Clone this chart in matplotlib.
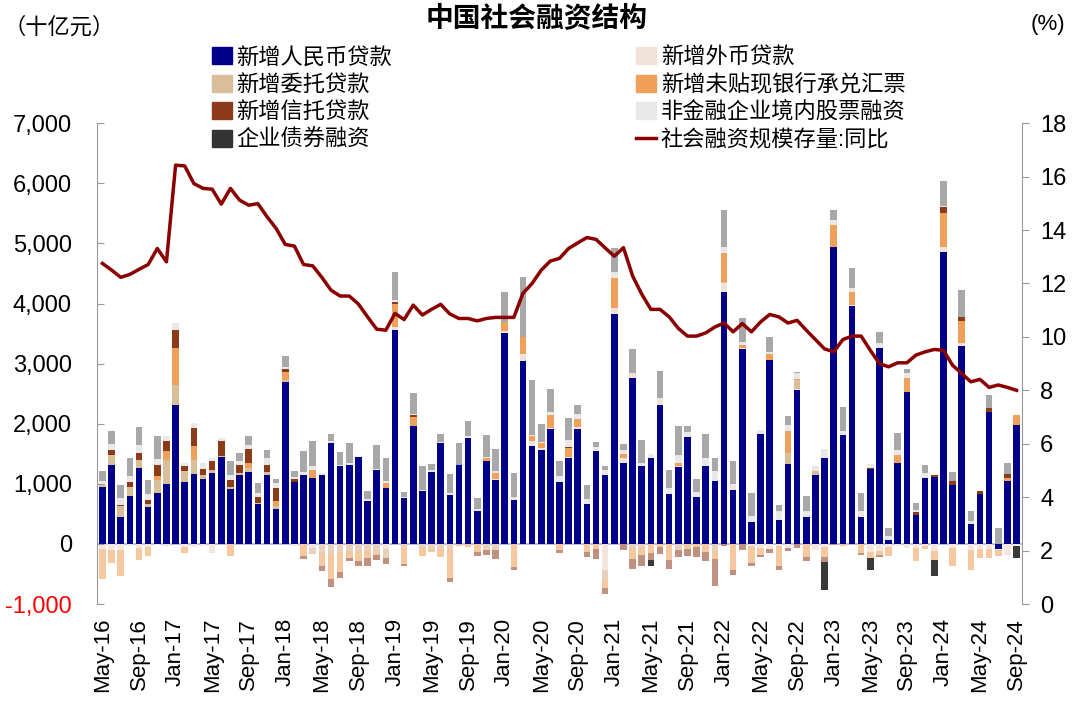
import matplotlib
matplotlib.use('Agg')
import matplotlib.pyplot as plt
import numpy as np
from matplotlib.patches import Patch
from matplotlib.lines import Line2D

plt.rcParams['font.family'] = ['Liberation Sans', 'Noto Sans CJK SC']

# 月度数据: 2016-05 ~ 2024-09, 单位 十亿元
rmb = [941, 1318, 448, 792, 1262, 609, 853, 997,
       2314, 1030, 1163, 1074, 1185, 1451, 914, 1141, 1196, 664, 1141, 581,
       2691, 1024, 1152, 1096, 1152, 1678, 1290, 1318, 1445, 720, 1224, 930,
       3560, 764, 1955, 875, 1190, 1678, 808, 1307, 1761, 554, 1373, 1069,
       3505, 725, 3045, 1633, 1556, 1910, 1030, 1428, 1916, 664, 1539, 1152,
       3826, 1345, 2757, 1290, 1428, 2314, 836, 1274, 1777, 775, 1301, 1041,
       4197, 903, 3239, 360, 1833, 3062, 404, 1334, 2564, 443, 1141, 1428,
       4944, 1816, 3959, 443, 1246, 3256, 72, 1345, 2536, 476, 1096, 1113,
       4850, 986, 3300, 332, 831, 2187, -77, 1041, 1982]
fx = [-90, -100, -100, -30, -60, -50, -20, -30,
      0, -50, -50, -30, -150, 0, 0, 0, 0, 0, 0, 0,
      0, -30, 0, -60, 0, 0, 0, 0, 0, 0, 0, -92,
      55, 0, 11, 0, 0, 0, 0, 0, 0, 0, 0, 10,
      39, 0, 111, 72, 39, 17, 0, 17, 22, 0, 0, -440,
      94, 83, 94, 0, 0, 77, 0, 17, 0, 0, 0, 0,
      138, 77, 17, -31, -76, -90, -36, -62, 11, 17, -94, -55,
      0, 0, 17, 17, -130, -110, -45, -30, -66, -68, -33, -110,
      94, -71, 39, -96, -83, -83, -30, -177, -39]
entrust = [40, 166, 177, 150, 138, 61, 205, 404,
           332, 177, 238, 77, 50, 17, 28, 39, 66, 17, 50, 44,
           39, 0, 0, -100, -150, -160, -130, -120, -130, -100, -150, -150,
           0, -60, 0, -74, -78, -86, -80, 0, 0, 0, -100, -100,
           0, 0, 0, 0, 0, 0, 0, 0, 0, 0, 0, -150,
           0, 0, -60, -61, 0, 0, 0, -106, 0, 0, 0, -122,
           24, 0, 0, 0, 0, 0, 0, 177, 155, 0, 66, 0,
           0, 0, 0, 0, 0, 0, 0, 0, 0, 0, 0, 0,
           0, 0, 0, 0, 0, 0, 0, 0, 0]
bill = [-500, -216, -426, 0, -200, -155, 77, 150,
        609, -100, 232, 0, 0, 0, -205, 0, 83, 0, 0, 83,
        138, 0, -200, 133, -210, -430, -340, -110, -160, -130, -40, 83,
        376, -270, 138, -120, -60, -130, -480, -40, -50, -140, 55, 100,
        144, -380, 282, 83, 83, 221, -100, 150, 138, -140, -80, -150,
        509, 72, -185, -130, -150, -46, -270, 55, -85, -56, -137, -130,
        476, -439, 55, -290, -100, 100, -330, 360, 11, -220, 0, -166,
        360, -30, 221, -150, -102, -78, -160, 138, 232, -220, -50, -150,
        565, -300, 376, -330, -150, -150, -89, 55, 166]
trust = [0, 83, 28, 83, 110, 66, 177, 155,
         305, 83, 293, 100, 138, 238, 127, 138, 238, 94, 127, 216,
         39, 55, -50, 0, -90, -130, -95, -58, -70, -130, -70, -90,
         39, -40, 44, 0, 0, 0, -77, 0, 0, -65, -77, -150,
         0, -57, 0, 0, 0, 0, -50, 11, 0, -76, -170, -100,
         0, -94, -170, -180, -120, -120, -140, -110, -120, -160, -140, -440,
         -40, -70, -94, -50, -40, -60, -60, -60, -66, -68, 0, -83,
         -20, 0, 0, -27, 17, -28, 0, 0, 0, 55, 0, 39,
         89, 55, 66, 0, 44, 72, 0, 72, 0]
equity = [70, 100, 110, 100, 130, 100, 100, 94,
          110, 55, 83, 94, 55, 55, 80, 70, 60, 70, 110, 90,
          39, 30, 50, 60, 25, 30, 30, 30, 0, 30, 30, 30,
          30, 20, 20, 30, 44, 14, 39, 11, 28, 20, 17, 28,
          11, 50, 11, 28, 11, 55, 94, 127, 88, 83, 66, 83,
          100, 66, 0, 55, 72, 34, 94, 138, 77, 83, 127, 166,
          110, 17, 55, 100, 66, 28, 138, 110, 110, 83, 83, 150,
          83, 55, 55, 83, 66, 83, 55, 83, 83, 39, 83, 0,
          22, 0, 0, 44, 0, 0, 0, 0, 0]
bond = [155, 205, 222, 304, 302, 220, 388, 0,
        0, 0, 0, 0, 0, 0, 225, 124, 161, 168, 138, 65,
        183, 98, 337, 416, 0, 125, 202, 330, 0, 125, 396, 380,
        468, 74, 351, 396, 94, 138, 321, 360, 249, 190, 360, 371,
        498, 404, 1000, 914, 310, 371, 249, 360, 150, 238, 88, 66,
        388, 100, 388, 388, -100, 460, 305, 471, 110, 221, 404, 221,
        609, 377, 388, 388, 0, 260, 110, 150, 17, 249, 0, -470,
        166, 404, 332, 304, -205, 194, 138, 277, 55, 110, 138, -266,
        420, 150, 443, 166, 0, 226, 260, 177, -194]
# 社会融资规模存量同比 (%)
growth = [12.75, 12.5, 12.23, 12.34, 12.53, 12.71, 13.31, 12.81,
          16.43, 16.4, 15.74, 15.56, 15.53, 14.97, 15.56, 15.12, 14.93, 14.99, 14.5, 14.06,
          13.46, 13.4, 12.71, 12.66, 12.23, 11.75, 11.53, 11.53, 11.23, 10.75, 10.29, 10.25,
          10.88, 10.65, 11.19, 10.82, 11.03, 11.22, 10.86, 10.69, 10.69, 10.6, 10.69, 10.73,
          10.73, 10.73, 11.63, 12.0, 12.5, 12.84, 12.94, 13.31, 13.52, 13.72, 13.65, 13.33,
          13.02, 13.34, 12.28, 11.6, 11.03, 11.03, 10.75, 10.32, 10.03, 10.03, 10.15, 10.37,
          10.52, 10.19, 10.5, 10.19, 10.56, 10.84, 10.75, 10.52, 10.62, 10.25, 9.9, 9.55,
          9.44, 9.9, 10.03, 10.03, 9.5, 9.0, 8.88, 9.03, 9.03, 9.32, 9.44, 9.53,
          9.5, 8.94, 8.63, 8.32, 8.41, 8.11, 8.2, 8.11, 8.0]
tick_labels = ['May-16', 'Sep-16', 'Jan-17', 'May-17', 'Sep-17', 'Jan-18', 'May-18',
               'Sep-18', 'Jan-19', 'May-19', 'Sep-19', 'Jan-20', 'May-20', 'Sep-20',
               'Jan-21', 'May-21', 'Sep-21', 'Jan-22', 'May-22', 'Sep-22', 'Jan-23',
               'May-23', 'Sep-23', 'Jan-24', 'May-24', 'Sep-24']

names = ['新增人民币贷款', '新增外币贷款', '新增委托贷款', '新增未贴现银行承兑汇票',
         '新增信托贷款', '非金融企业境内股票融资', '企业债券融资']
colors = ['#000088', '#efe2d8', '#d8bf9a', '#f0a05a', '#8b3a1a', '#e8e8e8', '#a8a8a8']
# 负值部分颜色偏浅, 债券负值偏深
neg_colors = ['#000088', '#f2e6de', '#e6d2bc', '#f6c8a0', '#c09080', '#eeeeee', '#3a3a3a']
data = [rmb, fx, entrust, bill, trust, equity, bond]

fig = plt.figure(figsize=(10.8, 7.04), dpi=100)
ax = fig.add_axes([0.0898, 0.142, 0.8565, 0.683])

x = np.arange(len(rmb))
pos = np.zeros(len(x))
neg = np.zeros(len(x))
for vals, c, nc in zip(data, colors, neg_colors):
    v = np.array(vals, dtype=float)
    p = np.where(v > 0, v, 0)
    n = np.where(v < 0, v, 0)
    ax.bar(x, p, bottom=pos, width=0.72, color=c, linewidth=0)
    ax.bar(x, n, bottom=neg, width=0.72, color=nc, linewidth=0)
    pos += p
    neg += n

ax.axhline(0, color='#aab0d8', lw=1.2, zorder=0.5)
ax.set_xlim(-0.6, len(x) - 0.4)
ax.set_ylim(-1000, 7000)
yt = list(range(-1000, 7001, 1000))
ax.set_yticks(yt)
ax.set_yticklabels([f'{v:,}' for v in yt], fontsize=17)
ax.get_yticklabels()[0].set_color('red')
ax.tick_params(axis='y', direction='in', length=5, pad=18, color='#999999')
ax.set_xticks(x[::4])
ax.set_xticklabels(tick_labels, rotation=90, fontsize=16)
ax.tick_params(axis='x', length=0, pad=10)
for s in ['top', 'bottom', 'right']:
    ax.spines[s].set_visible(False)
ax.spines['left'].set_color('#999999')

ax2 = ax.twinx()
ax2.plot(x, growth, color='#8b0000', lw=2.5)
ax2.set_ylim(0, 18)
ax2.set_yticks(range(0, 19, 2))
ax2.tick_params(axis='y', direction='out', length=5, pad=8, labelsize=17, color='#999999')
for s in ['top', 'bottom', 'left']:
    ax2.spines[s].set_visible(False)
ax2.spines['right'].set_color('#999999')

fig.text(0.497, 0.972, '中国社会融资结构', ha='center', va='center', fontsize=20, weight='bold')
fig.text(0.003, 0.96, '（十亿元）', ha='left', va='center', fontsize=16)
fig.text(0.97, 0.965, '(%)', ha='center', va='center', fontsize=16)

h = [Patch(color=c) for c in colors]
h[6] = Patch(color='#333333')
line_h = Line2D([], [], color='#8b0000', lw=2.5)
handles = [h[0], h[2], h[4], h[6], h[1], h[3], h[5], line_h]
labels = [names[0], names[2], names[4], names[6], names[1], names[3], names[5],
          '社会融资规模存量:同比']
fig.legend(handles, labels, ncol=2, loc='upper left', bbox_to_anchor=(0.196, 0.933),
           frameon=False, fontsize=16, handlelength=0.9, handleheight=0.8,
           handletextpad=0.2, columnspacing=11.0, labelspacing=0.28,
           borderpad=0, borderaxespad=0)

fig.savefig('out.png', dpi=100)
